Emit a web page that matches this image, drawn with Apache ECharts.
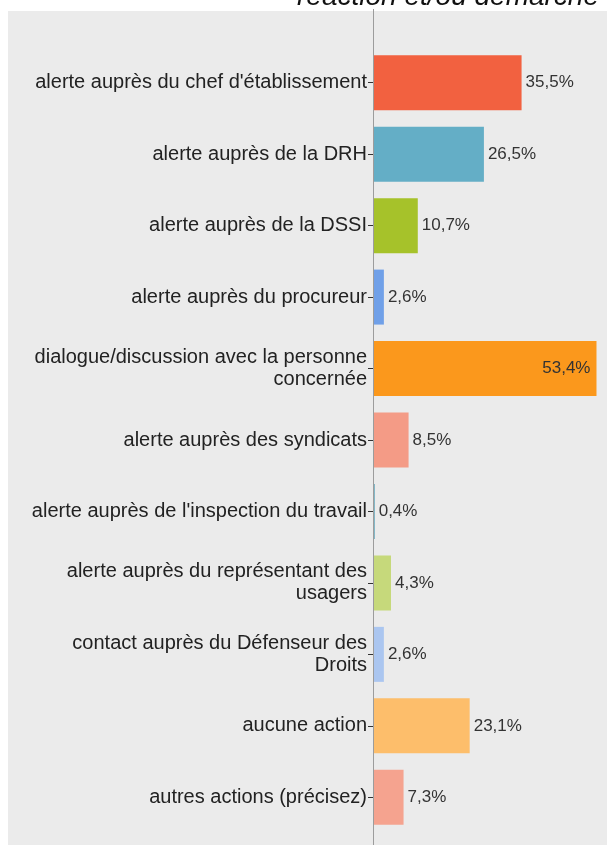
<!DOCTYPE html>
<html>
<head>
<meta charset="utf-8">
<script src="https://cdn.jsdelivr.net/npm/echarts@6/dist/echarts.min.js"></script>
<style>html,body{margin:0;padding:0;background:#fff}#c{width:607px;height:845px}</style>
</head>
<body>
<div id="c"></div>
<script>
const titleText = "réaction et/ou démarche";
const categories = [
  "alerte auprès du chef d'établissement",
  "alerte auprès de la DRH",
  "alerte auprès de la DSSI",
  "alerte auprès du procureur",
  "dialogue/discussion avec la personne\nconcernée",
  "alerte auprès des syndicats",
  "alerte auprès de l'inspection du travail",
  "alerte auprès du représentant des\nusagers",
  "contact auprès du Défenseur des\nDroits",
  "aucune action",
  "autres actions (précisez)"
];
const values = [35.5, 26.5, 10.7, 2.6, 53.4, 8.5, 0.4, 4.3, 2.6, 23.1, 7.3];
const colors = ["#f26140", "#64aec6", "#a6c22a", "#70a0e8", "#fb981c", "#f49b86", "#4f9fb6", "#c6d97b", "#abc6f0", "#fdbe6b", "#f5a38f"];

const chart = echarts.init(document.getElementById('c'), null, {renderer: 'canvas'});
const FONT = "'Liberation Sans', Arial, sans-serif";
chart.setOption({
  animation: false,
  backgroundColor: '#ffffff',
  graphic: [
    {type: 'rect', z: -10, shape: {x: 8, y: 11, width: 600, height: 840}, style: {fill: '#ebebeb'}},
    {type: 'line', z: 5, shape: {x1: 373.5, y1: 9, x2: 373.5, y2: 845}, style: {stroke: '#9c9c9c', lineWidth: 1}},
    {type: 'text', z: 10, style: {text: titleText, x: 599, y: 11, align: 'right', verticalAlign: 'bottom', font: "italic 28px 'Liberation Sans', Arial, sans-serif", fill: '#111'}}
  ],
  grid: {left: 373, width: 226, top: 47, bottom: 12, containLabel: false},
  xAxis: {type: 'value', min: 0, max: 54, show: false},
  yAxis: {
    type: 'category', inverse: true, data: categories,
    axisLine: {show: false},
    axisTick: {show: true, length: 5, alignWithLabel: true, lineStyle: {color: '#333'}},
    axisLabel: {
      margin: 6, fontSize: 20, fontFamily: FONT, color: '#222', lineHeight: 22, align: 'right'
    },
    splitLine: {show: false}
  },
  series: [{
    type: 'bar',
    data: values.map((v, i) => ({
      value: v,
      itemStyle: {color: colors[i]},
      label: v > 50 ? {position: 'insideRight', distance: 6} : {position: 'right', distance: 4}
    })),
    barWidth: 55,
    label: {
      show: true, fontSize: 17, fontFamily: FONT, color: '#333',
      formatter: p => String(p.value).replace('.', ',') + '%'
    }
  }]
});
</script>
</body>
</html>
